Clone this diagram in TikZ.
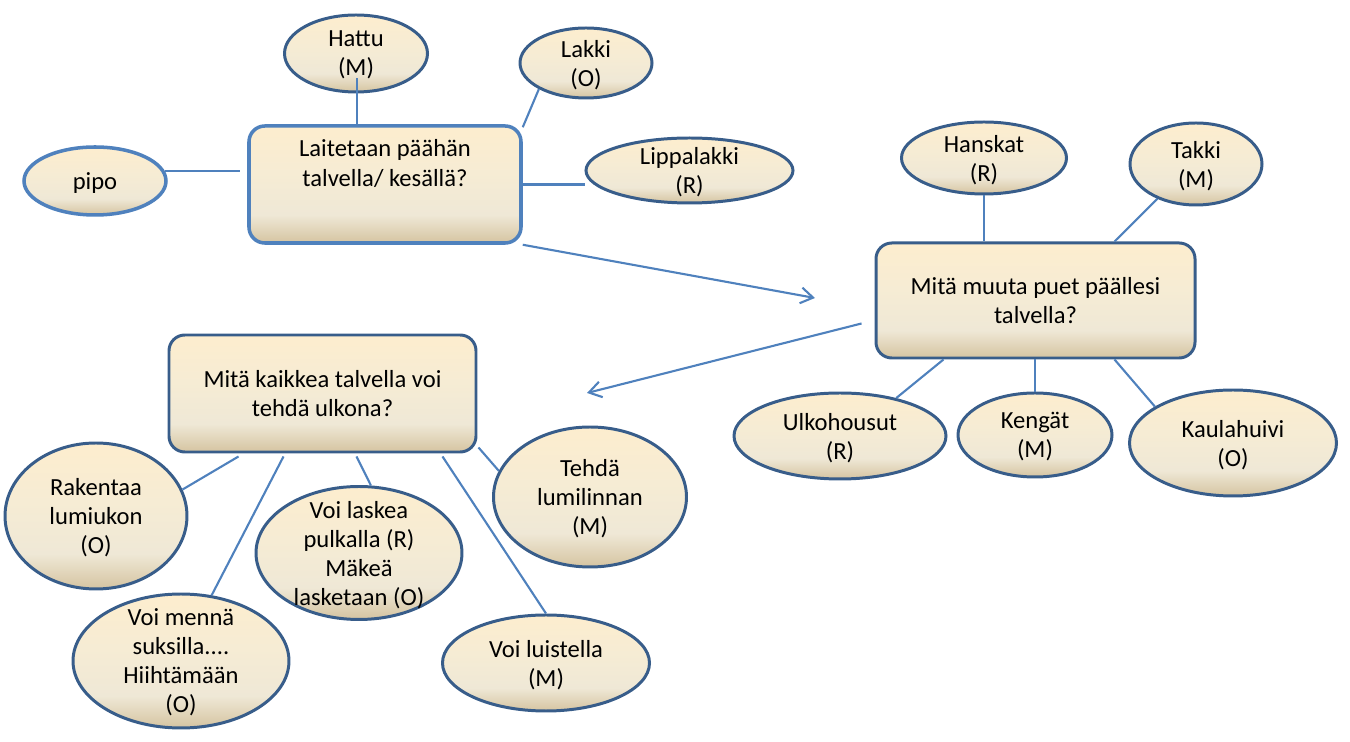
\documentclass[tikz,border=0pt]{standalone}
\usepackage{fontspec}
\setmainfont{Carlito}
\usetikzlibrary{shapes.geometric,arrows.meta,calc}
\definecolor{linkblue}{HTML}{4F81BD}
\definecolor{rimblue}{HTML}{385D8A}
\definecolor{creamtop}{HTML}{FDEDCE}
\definecolor{creamlite}{HTML}{F6ECD4}
\definecolor{creammid}{HTML}{EFE8D6}
\definecolor{creambot}{HTML}{D5C4A1}
\pgfdeclareverticalshading{cream}{100bp}{color(0bp)=(creambot); color(25bp)=(creambot); color(37bp)=(creammid); color(55bp)=(creamlite); color(75bp)=(creamtop); color(100bp)=(creamtop)}
\tikzset{
  dims/.style 2 args={minimum width=#1*0.02cm, minimum height=#2*0.02cm},
  bubble/.style={ellipse, draw=rimblue, line width=1.7pt, shading=cream, inner sep=-10pt, align=center, font=\fontsize{14}{16.5}\selectfont, text depth=0pt},
  question/.style={rectangle, rounded corners=9pt, draw=rimblue, line width=1.7pt, shading=cream, inner sep=0pt, align=center, font=\fontsize{14}{17}\selectfont},
  link/.style={draw=linkblue, line width=1.2pt},
  arrow/.style={link, -{Straight Barb[length=7pt,width=9pt]}}
}
\begin{document}
\begin{tikzpicture}[x=0.02cm, y=-0.02cm]
  \useasboundingbox (0,0) rectangle (1350,742);
  % questions
  \node[question, dims={272}{117}, draw=linkblue, line width=2pt] (hat) at (385,184.5) {Laitetaan päähän\\talvella/ kesällä?\\[8pt]\mbox{}};
  \node[question, dims={319}{115}] (wear) at (1035.5,300.5) {Mitä muuta puet päällesi\\talvella?};
  \node[question, dims={307}{117}] (doing) at (322.5,393.5) {Mitä kaikkea talvella voi\\tehdä ulkona?};
  % answers
  \node[bubble, dims={142}{68}, draw=linkblue, line width=2pt] (pipo) at (95,181) {pipo};
  \node[bubble, dims={143}{77}] (hattu) at (356,53.5) {Hattu\\(M)};
  \node[bubble, dims={132}{70}] (lakki) at (586,63) {Lakki\\(O)};
  \node[bubble, dims={207}{65}] (lippis) at (689.5,170.5) {Lippalakki\\(R)};
  \node[bubble, dims={165}{72}] (hanskat) at (984,158) {Hanskat\\(R)};
  \node[bubble, dims={132}{82}] (takki) at (1196,164) {Takki\\(M)};
  \node[bubble, dims={212}{86}] (housut) at (840,436) {Ulkohousut\\(R)};
  \node[bubble, dims={154}{84}] (kengat) at (1035,435) {Kengät\\(M)};
  \node[bubble, dims={207}{106}] (huivi) at (1233,443) {Kaulahuivi\\(O)};
  \node[bubble, dims={182}{146}] (lumiukko) at (96,516) {Rakentaa\\lumiukon\\(O)};
  \node[bubble, dims={216}{134}] (sukset) at (181,661) {Voi mennä\\suksilla....\\Hiihtämään\\(O)};
  \node[bubble, dims={206}{133}] (pulkka) at (359,553) {Voi laskea\\pulkalla (R)\\Mäkeä\\lasketaan (O)};
  \node[bubble, dims={193}{140}] (linna) at (590,497) {Tehdä\\lumilinnan\\(M)};
  \node[bubble, dims={207}{96}] (luistelu) at (546,663) {Voi luistella\\(M)};
  % connectors
  \draw[link, shorten >=0.14cm] (pipo.8) -- (pipo.8 -| hat.west);
  \draw[link] ($(hattu.center)+(1,25)$) -- ($(hattu.center |- hat.north)+(1,0)$);
  \draw[link] (lakki.209) -- ($(hat.north east)+(0,3)$);
  \draw[link] (hat.east) -- (hat.east -| lippis.west);
  \coordinate (tip1) at (815,298);
  \draw[arrow] (hat.south east) -- (tip1);
  \draw[link] (hanskat.south) -- (hanskat.south |- wear.north);
  \draw[link] (takki.222) -- ($(wear.north east)+(-82,0)$);
  \coordinate (tip2) at (587,393);
  \draw[arrow] ($(wear.west)+(-13,23)$) -- (tip2);
  \draw[link] (housut.34) -- ($(wear.south west)+(69,0)$);
  \draw[link] (kengat.north) -- (kengat.north |- wear.south);
  \draw[link] (huivi.155) -- ($(wear.south east)+(-82,0)$);
  \draw[link] ($(doing.south west)+(71,3)$) -- (lumiukko.17);
  \draw[link] ($(doing.south west)+(116,3)$) -- (sukset.65);
  \draw[link] ($(doing.south west)+(189,3)$) -- (pulkka.80);
  \draw[link] ($(doing.south west)+(275,3)$) -- (luistelu.north);
  \draw[link] ($(doing.south east)+(1,-6)$) -- (linna.164);
\end{tikzpicture}
\end{document}
